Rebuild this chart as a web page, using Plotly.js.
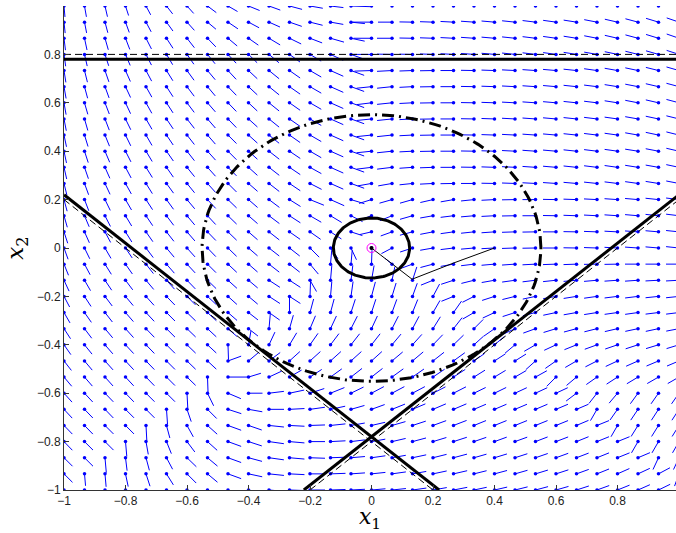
<!DOCTYPE html>
<html><head><meta charset="utf-8">
<script src="https://cdn.plot.ly/plotly-3.0.1.min.js"></script>
<style>html,body{margin:0;padding:0;background:#fff}#chart{width:676px;height:533px}</style>
</head><body><div id="chart"></div>
<script>
// grid of the vector field: x1 columns, x2 rows (top to bottom)
const gridX = [-1,-0.9333,-0.8667,-0.8,-0.7333,-0.6667,-0.6,-0.5333,-0.4667,-0.4,-0.3333,-0.2667,-0.2,-0.1333,-0.0667,0,0.0667,0.1333,0.2,0.2667,0.3333,0.4,0.4667,0.5333,0.6,0.6667,0.7333,0.8,0.8667,0.9333,1];
const gridY = [1,0.9333,0.8667,0.8,0.7333,0.6667,0.6,0.5333,0.4667,0.4,0.3333,0.2667,0.2,0.1333,0.0667,0,-0.0667,-0.1333,-0.2,-0.2667,-0.3333,-0.4,-0.4667,-0.5333,-0.6,-0.6667,-0.7333,-0.8,-0.8667,-0.9333,-1];
// arrow direction (degrees, 0 = +x1, 90 = +x2), one row per x2 value
const angleRows = [
[-85,-80,-77,-72,-62,-52,-48,-37,-30,-22,-20,-15,-10,-7,-2,0,0,0,0,0,0,0,0,0,0,0,0,0,0,0,0],
[-84,-79,-75,-70,-62,-54,-48,-40,-34,-28,-24,-19,-14,-10,-6,180,180,179,178,177,176,175,174,173,172,171,169,167,165,163,161],
[-83,-78,-74,-69,-63,-57,-52,-46,-40,-35,-31,-26,-21,-16,-12,180,180,179,178,177,176,175,174,173,172,171,169,167,165,163,161],
[-82,-77,-72,-67,-63,-59,-55,-51,-47,-44,-40,-36,-31,-25,-20,180,179,179,178,177,176,175,174,173,172,171,170,168,166,164,162],
[-81,-76,-71,-66,-62,-58,-54,-50,-47,-43,-39,-35,-30,-24,-20,182,183,182,181,180,179,178,177,176,175,174,172,170,168,166,164],
[-80,-75,-70,-65,-61,-57,-53,-50,-46,-43,-39,-35,-30,-24,-20,186,186,183,181,180,179,178,177,176,175,174,173,171,169,167,165],
[-80,-74,-69,-65,-61,-57,-53,-49,-46,-43,-39,-35,-30,-24,-20,187,186,183,181,180,179,178,177,176,175,174,173,171,169,167,165],
[-79,-74,-69,-64,-60,-56,-52,-49,-46,-42,-39,-35,-30,-24,-20,186,186,183,181,180,179,178,177,176,175,174,173,172,170,168,166],
[-78,-73,-68,-64,-60,-56,-52,-49,-45,-42,-39,-35,-30,-24,-20,186,186,183,181,180,179,178,177,176,175,174,173,172,170,168,166],
[-78,-72,-67,-63,-59,-55,-52,-48,-45,-42,-38,-34,-30,-24,-20,186,186,183,181,180,179,178,177,176,175,174,173,172,171,169,167],
[-77,-71,-66,-62,-58,-55,-51,-48,-45,-42,-38,-34,-29,-24,-20,187,187,184,182,180,179,178,177,176,175,174,173,172,171,170,168],
[-76,-70,-65,-61,-58,-54,-51,-48,-45,-41,-38,-34,-27,-24,-20,190,190,186,183,181,180,179,178,177,176,175,174,173,172,171,169],
[-75,-69,-64,-60,-57,-54,-50,-47,-44,-41,-37,-32,-22,-24,-17,197,196,196,193,190,186,183,181,180,179,178,177,176,175,174,173],
[-74,-67,-63,-59,-56,-53,-50,-47,-44,-41,-37,-33,-30,-31,-27,200,202,196,190,187,185,183,181,180,179,178,177,176,175,174,173],
[-72,-66,-62,-58,-55,-52,-49,-46,-44,-41,-38,-35,-35,-33,-18,193,200,195,191,188,186,184,182,181,180,179,178,177,176,175,174],
[-70,-64,-60,-56,-53,-50,-48,-46,-44,-41,-38,-38,-45,-55,-65,0,208,198,190,187,185,183,182,181,180,179,178,177,176,175,174],
[-68,-62,-58,-55,-52,-49,-47,-45,-43,-41,-38,-38,-50,85,85,88,140,200,195,190,187,185,184,183,182,182,181,181,180,180,180],
[-65,-60,-56,-53,-50,-48,-46,-44,-42,-40,-33,-33,-60,85,83,80,78,72,202,198,194,190,188,187,186,185,185,184,184,183,183],
[-62,-57,-53,-50,-48,-46,-45,-43,-42,-40,-33,-33,88,85,82,75,73,70,62,202,207,198,194,192,190,189,188,187,187,186,186],
[-60,-55,-52,-49,-47,-45,-44,-43,-41,-38,-35,90,75,75,72,72,70,68,60,55,210,205,198,194,192,190,189,188,188,187,187],
[-57,-53,-50,-48,-46,-45,-44,-43,-41,-38,85,74,67,65,63,65,63,62,58,52,45,215,205,200,197,195,194,193,192,192,191],
[-55,-51,-49,-47,-46,-45,-44,-43,-88,80,65,59,55,53,52,52,50,48,46,44,42,40,220,210,205,202,200,199,198,197,197],
[-52,-50,-48,-47,-46,-45,-44,-43,20,40,37,42,42,42,42,42,40,40,38,36,35,33,32,222,215,210,207,205,204,203,203],
[-50,-49,-48,-47,-46,-45,-44,-88,0,17,25,30,33,36,38,38,36,35,34,33,32,31,30,29,225,220,215,213,211,210,210],
[-48,-47,-46,-46,-45,-45,-87,-64,-23,0,7,12,18,22,26,28,28,28,27,27,26,26,25,25,25,217,232,230,234,235,235],
[-47,-46,-46,-45,-45,-86,-71,-45,-18,-10,0,3,8,12,16,20,22,23,23,23,23,23,23,23,23,23,240,235,236,237,237],
[-46,-46,-45,-45,-87,-75,-61,-42,-20,-19,-6,-3,2,6,10,13,16,18,20,21,22,22,22,22,22,23,22,240,238,238,238],
[-46,-45,-45,-85,-80,-68,-53,-42,-20,-18,-8,-5,0,3,7,10,13,15,17,18,19,20,20,21,21,22,22,22,240,240,240],
[-45,-45,-85,-83,-75,-62,-44,-40,-20,-15,-8,-5,-2,2,5,8,10,12,14,15,16,17,18,19,20,21,22,22,23,245,245],
[-45,-85,-85,-78,-72,-58,-45,-40,-20,-12,-6,-3,0,2,4,6,8,10,12,13,14,15,16,17,18,20,22,24,25,28,250],
[-88,-86,-84,-80,-75,-60,-45,-40,-18,-10,-5,-2,0,2,3,5,6,8,10,11,12,13,14,15,16,18,20,22,24,26,28]
];
// arrow magnitude (screen length units), same layout; 0 = no motion
const magRows = [
[11,11,11,10,10,10,10,11,11,12,12,13,13,13,19,0,0,0,0,0,0,0,0,0,0,0,0,0,0,0,0],
[11,11,11,11,11,11,11,11,12,12,12,13,13,13,14,19,14,13,13,13,13,13,13,13,13,13,13,13,13,13,13],
[12,12,12,12,12,12,12,12,12,12,13,13,13,14,14,18,15,13,13,13,13,13,13,13,13,13,13,13,13,13,13],
[12,12,12,12,12,12,12,12,12,12,13,13,13,14,14,18,15,13,13,13,13,13,13,13,13,13,13,13,13,13,13],
[12,12,12,12,12,12,12,12,12,12,13,13,13,14,14,17,15,13,13,13,13,13,13,13,13,13,13,13,13,13,13],
[12,12,12,12,12,12,12,12,12,12,13,13,13,14,14,15,15,13,13,13,13,13,13,13,13,13,13,13,13,13,13],
[12,12,12,12,12,12,12,12,12,12,13,13,13,14,14,15,15,13,13,13,13,13,13,13,13,13,13,13,13,13,13],
[12,12,12,12,12,12,12,12,12,12,13,13,13,14,14,15,15,13,13,13,13,13,13,13,13,13,13,13,13,13,13],
[12,12,12,12,12,12,12,12,12,12,13,13,13,14,14,15,15,13,13,13,13,13,13,13,13,13,13,13,13,13,13],
[12,12,12,12,12,12,12,12,12,12,13,13,13,14,14,15,15,13,13,13,13,13,13,13,13,13,13,13,13,13,13],
[12,12,12,12,12,12,12,12,12,12,13,13,13,14,14,15,15,13,13,13,13,13,13,13,13,13,13,13,13,13,13],
[12,12,12,12,12,12,12,12,12,12,13,13,13,14,14,14,14,13,13,13,13,13,13,13,13,13,13,13,13,13,13],
[12,12,12,12,12,12,12,12,12,12,13,13,15,15,14,13,13,13,13,13,13,13,13,13,13,13,13,13,13,13,13],
[12,12,12,12,12,12,12,12,12,12,13,13,13,13,13,12,13,13,13,13,13,13,13,13,13,13,13,13,13,13,13],
[12,12,12,12,12,12,12,12,12,12,13,13,13,13,12,12,12,13,13,13,13,13,13,13,13,13,13,13,13,13,13],
[12,12,12,12,12,12,12,12,12,12,13,13,13,13,13,0,12,13,13,13,13,13,13,13,13,13,13,13,13,13,13],
[12,12,12,12,12,12,12,12,12,12,13,13,13,14,14,14,9,13,13,13,13,13,13,13,13,13,13,13,13,13,13],
[12,12,12,12,12,12,12,12,12,12,13,13,13,15,15,15,14,14,13,13,13,13,13,13,13,13,13,13,13,13,13],
[12,12,12,12,12,12,12,12,12,12,13,13,15,15,15,15,14,14,14,13,13,13,13,13,13,13,13,13,13,13,13],
[12,12,12,12,12,12,12,12,12,12,13,15,14,14,14,14,14,14,14,14,13,13,13,13,13,13,13,13,13,13,13],
[12,12,12,12,12,12,12,12,12,12,15,14,14,14,14,14,14,14,14,14,13,13,13,13,13,13,13,13,13,13,13],
[12,12,12,12,12,12,12,12,15,14,14,14,14,14,14,14,14,14,14,14,13,13,13,13,13,13,13,13,13,13,13],
[12,12,12,12,12,12,12,12,14,14,14,14,14,14,14,14,14,14,14,14,13,13,13,13,13,13,13,13,13,13,13],
[12,12,12,12,12,12,12,15,21,13,14,14,14,14,14,14,14,14,14,14,13,13,13,13,13,13,13,13,13,13,13],
[12,12,12,12,12,12,15,14,14,14,15,15,15,15,14,14,14,14,14,14,13,13,13,13,13,13,13,13,13,13,13],
[12,12,12,12,12,15,13,13,14,14,15,15,15,15,14,14,14,14,14,14,13,13,13,13,13,13,13,13,13,13,13],
[12,12,12,12,15,13,13,13,14,14,15,15,15,15,14,14,14,14,14,14,13,13,13,13,13,13,13,13,13,13,13],
[12,12,12,15,13,13,13,13,14,14,15,15,15,15,14,14,14,14,14,14,13,13,13,13,13,13,13,13,13,13,13],
[12,12,15,13,13,13,13,13,14,14,15,15,15,15,14,14,14,14,14,14,13,13,13,13,13,13,13,13,13,13,13],
[12,12,13,13,13,13,13,13,14,14,15,15,15,15,14,14,14,14,14,14,13,13,13,13,13,13,13,13,13,13,13],
[12,12,12,12,12,12,13,13,14,14,15,15,15,15,14,14,14,14,14,14,13,13,13,13,13,13,13,13,13,13,13]
];
// constraint lines (true and tightened), level sets and trajectory
const lineX = [-1, 1];
const tightTop = [0.78, 0.78];
const trueTop = [0.8, 0.8];
const leftTightX = [-1, 0.22], leftTightY = [0.22, -1];
const leftTrueX = [-1, 0.2], leftTrueY = [0.2, -1];
const rightTightX = [-0.22, 1], rightTightY = [-1, 0.22];
const rightTrueX = [-0.2, 1], rightTrueY = [-1, 0.2];
const bigRadius = 0.551, smallRadius = 0.124;
const trajX = [0.4, 0.267, 0.132, 0];
const trajY = [0.0, -0.062, -0.129, 0];

const PX_X = 307.5, PX_Y = 242; // pixels per data unit on each axis
const segX = [], segY = [], dotX = [], dotY = [];
gridY.forEach((y, r) => {
  gridX.forEach((x, c) => {
    dotX.push(x); dotY.push(y);
    const m = magRows[r][c];
    if (m > 0) {
      const a = angleRows[r][c] * Math.PI / 180;
      segX.push(x, x + m * Math.cos(a) / PX_X, null);
      segY.push(y, y + m * Math.sin(a) / PX_Y, null);
    }
  });
});
function circle(rad) {
  const xs = [], ys = [];
  for (let k = 0; k <= 240; k++) { const t = 2 * Math.PI * k / 240; xs.push(rad * Math.cos(t)); ys.push(rad * Math.sin(t)); }
  return [xs, ys];
}
const big = circle(bigRadius), small = circle(smallRadius);
const blk = '#000';
const traces = [
  {x: segX, y: segY, mode: 'lines', line: {color: '#0000ff', width: 1}, hoverinfo: 'skip'},
  {x: dotX, y: dotY, mode: 'markers', marker: {color: '#0000ff', size: 3.5}, hoverinfo: 'skip'},
  {x: lineX, y: trueTop, mode: 'lines', line: {color: blk, width: 1, dash: '7px,4px'}},
  {x: leftTrueX, y: leftTrueY, mode: 'lines', line: {color: blk, width: 1, dash: '7px,4px'}},
  {x: rightTrueX, y: rightTrueY, mode: 'lines', line: {color: blk, width: 1, dash: '7px,4px'}},
  {x: lineX, y: tightTop, mode: 'lines', line: {color: blk, width: 3}},
  {x: leftTightX, y: leftTightY, mode: 'lines', line: {color: blk, width: 3}},
  {x: rightTightX, y: rightTightY, mode: 'lines', line: {color: blk, width: 3}},
  {x: big[0], y: big[1], mode: 'lines', line: {color: blk, width: 3, dash: '12px,5px,2px,5px'}},
  {x: small[0], y: small[1], mode: 'lines', line: {color: blk, width: 3}},
  {x: trajX, y: trajY, mode: 'lines', line: {color: blk, width: 1}},
  {x: [0], y: [0], mode: 'markers', marker: {color: blk, size: 4}},
  {x: [0], y: [0], mode: 'markers', marker: {color: 'rgba(0,0,0,0)', size: 9, line: {color: '#ff00ff', width: 1}}}
];
const axisFont = {family: 'Liberation Sans, Arial, sans-serif', size: 12, color: '#222'};
const layout = {
  width: 676, height: 533, showlegend: false,
  margin: {l: 64, r: 0, t: 6, b: 43},
  paper_bgcolor: '#fff', plot_bgcolor: '#fff',
  xaxis: {range: [-1, -1 + 612 / PX_X], tickvals: [-1,-0.8,-0.6,-0.4,-0.2,0,0.2,0.4,0.6,0.8],
    ticktext: ['\u22121','\u22120.8','\u22120.6','\u22120.4','\u22120.2','0','0.2','0.4','0.6','0.8'],
    ticks: 'inside', ticklen: 5, tickcolor: '#333', showline: true, linecolor: '#333', linewidth: 1,
    showgrid: false, zeroline: false, tickfont: axisFont,
    title: {text: '<i>x</i><sub>1</sub>', font: {family: 'DejaVu Serif, serif', size: 22, color: '#000'}, standoff: 8}},
  yaxis: {range: [-1, 1], tickvals: [-1,-0.8,-0.6,-0.4,-0.2,0,0.2,0.4,0.6,0.8,1],
    ticktext: ['\u22121','\u22120.8','\u22120.6','\u22120.4','\u22120.2','0','0.2','0.4','0.6','0.8','1'],
    ticks: 'inside', ticklen: 5, tickcolor: '#333', showline: true, linecolor: '#333', linewidth: 1,
    showgrid: false, zeroline: false, tickfont: axisFont,
    title: {text: '<i>x</i><sub>2</sub>', font: {family: 'DejaVu Serif, serif', size: 23, color: '#000'}, standoff: 6}}
};
Plotly.newPlot('chart', traces, layout, {staticPlot: true, displayModeBar: false});
</script></body></html>
